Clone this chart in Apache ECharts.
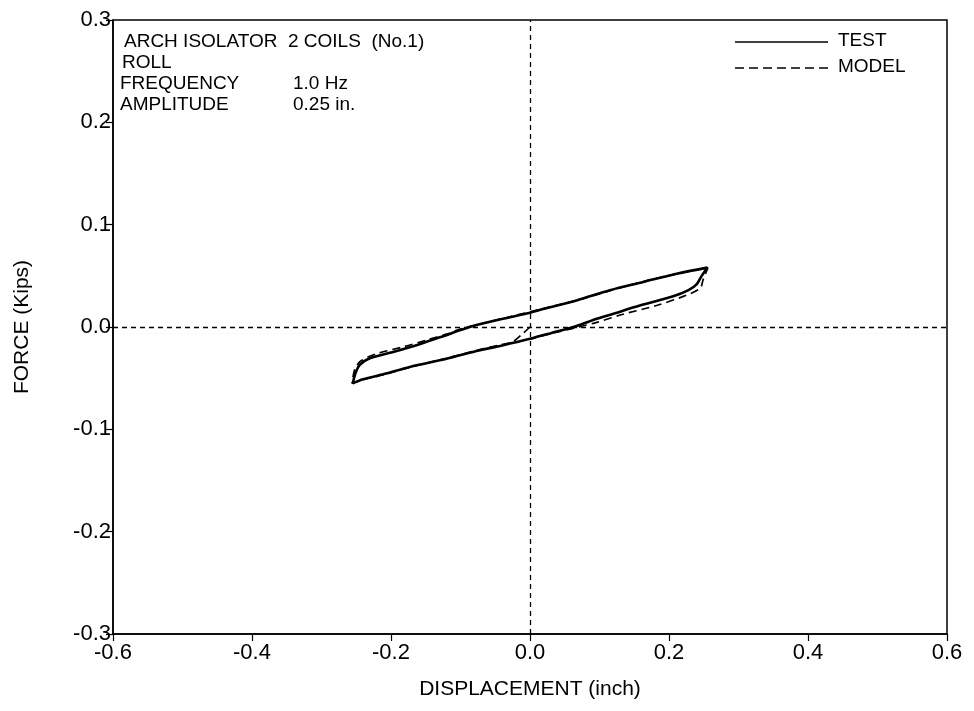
<!DOCTYPE html>
<html>
<head>
<meta charset="utf-8">
<script src="https://cdn.jsdelivr.net/npm/echarts@6/dist/echarts.min.js"></script>
<style>
html,body{margin:0;padding:0;background:#fff;}
#chart{width:974px;height:711px;}
</style>
</head>
<body>
<div id="chart"></div>
<script>
// ---- data ----
var xTicks = [-0.6, -0.4, -0.2, 0.0, 0.2, 0.4, 0.6];
var yTicks = [-0.3, -0.2, -0.1, 0.0, 0.1, 0.2, 0.3];

var testX = [0.255, 0.247, 0.240, 0.228, 0.206, 0.158, 0.120, 0.096, 0.067, 0.030, 0.000, -0.040, -0.077, -0.120, -0.173, -0.210, -0.240, -0.255,
             -0.251, -0.245, -0.232, -0.200, -0.160, -0.125, -0.100, -0.077, -0.029, 0.000, 0.019, 0.067, 0.115, 0.163, 0.211, 0.255];
var testY = [0.058, 0.050, 0.042, 0.036, 0.030, 0.021, 0.013, 0.008, 0.001, -0.006, -0.0115, -0.018, -0.0235, -0.031, -0.039, -0.046, -0.051, -0.055,
             -0.045, -0.037, -0.031, -0.025, -0.017, -0.009, -0.003, 0.002, 0.0095, 0.014, 0.0175, 0.026, 0.036, 0.044, 0.052, 0.058];

var modelX = [0.000, -0.013, -0.025, -0.040, -0.077, -0.120, -0.173, -0.210, -0.240, -0.256,
              -0.252, -0.243, -0.220, -0.180, -0.150, -0.120, -0.100, -0.077, -0.029, 0.019, 0.067, 0.115, 0.163, 0.211, 0.256,
              0.249, 0.245, 0.225, 0.182, 0.134, 0.096, 0.067, 0.030, 0.000];
var modelY = [0.000, -0.008, -0.0145, -0.017, -0.023, -0.0305, -0.0395, -0.0465, -0.0515, -0.055,
              -0.041, -0.033, -0.026, -0.019, -0.013, -0.007, -0.002, 0.002, 0.010, 0.018, 0.026, 0.0355, 0.0445, 0.052, 0.058,
              0.046, 0.038, 0.031, 0.021, 0.0125, 0.0045, -0.0005, -0.0065, -0.012];

var infoLines = [
  ["ARCH ISOLATOR  2 COILS  (No.1)", ""],
  ["ROLL", ""],
  ["FREQUENCY", "1.0 Hz"],
  ["AMPLITUDE", "0.25 in."]
];
var seriesNames = ["TEST", "MODEL"];
var xName = "DISPLACEMENT (inch)";
var yName = "FORCE (Kips)";

// ---- chart ----
var FONT = '"Liberation Sans", Arial, sans-serif';
function zip(a, b) { return a.map(function (v, i) { return [v, b[i]]; }); }

var chart = echarts.init(document.getElementById('chart'), null, {renderer: 'canvas'});

var graphics = [];
var infoY = [42, 63, 84, 105];
var infoX = [[124, 0], [122, 0], [120, 293], [120, 293]];
infoLines.forEach(function (l, i) {
  graphics.push({type: 'text', x: infoX[i][0], y: infoY[i],
    style: {text: l[0], font: '19px ' + FONT, fill: '#000', verticalAlign: 'middle'}});
  if (l[1]) graphics.push({type: 'text', x: infoX[i][1], y: infoY[i],
    style: {text: l[1], font: '19px ' + FONT, fill: '#000', verticalAlign: 'middle'}});
});
// legend drawn as decoration
var legendY = [42, 68];
var legendDash = [null, [9, 5]];
seriesNames.forEach(function (n, i) {
  graphics.push({type: 'line', shape: {x1: 735, y1: legendY[i], x2: 828, y2: legendY[i]},
    style: {stroke: '#000', lineWidth: 1.4, lineDash: legendDash[i]}});
  graphics.push({type: 'text', x: 838, y: legendY[i] - 1,
    style: {text: n, font: '19px ' + FONT, fill: '#000', verticalAlign: 'middle'}});
});

var axisCommon = {
  axisLine: {show: true, onZero: false, lineStyle: {color: '#000', width: 1.5}},
  axisTick: {show: true, inside: false, length: 7, lineStyle: {color: '#000', width: 1.2}},
  splitLine: {show: false},
  nameLocation: 'middle',
  nameTextStyle: {color: '#000', fontSize: 21, fontFamily: FONT}
};

chart.setOption({
  animation: false,
  backgroundColor: '#fff',
  textStyle: {fontFamily: FONT},
  grid: {left: 113, right: 27, top: 20, bottom: 77, show: true, borderColor: '#000', borderWidth: 1.5, containLabel: false},
  graphic: graphics,
  xAxis: Object.assign({}, axisCommon, {
    type: 'value', min: xTicks[0], max: xTicks[xTicks.length - 1], interval: 0.2,
    name: xName, nameGap: 45,
    axisLabel: {color: '#000', fontSize: 22, fontFamily: FONT, margin: 8,
      formatter: function (v) { return v.toFixed(1); }}
  }),
  yAxis: Object.assign({}, axisCommon, {
    type: 'value', min: yTicks[0], max: yTicks[yTicks.length - 1], interval: 0.1,
    name: yName, nameGap: 80,
    axisLabel: {color: '#000', fontSize: 22, fontFamily: FONT, margin: 2,
      formatter: function (v) { return v.toFixed(1); }}
  }),
  series: [
    {
      name: seriesNames[0], type: 'line', symbol: 'none', smooth: 0.3,
      data: zip(testX, testY),
      lineStyle: {color: '#000', width: 2.6, type: 'solid'},
      itemStyle: {color: '#000'},
      markLine: {
        silent: true, symbol: 'none', label: {show: false},
        lineStyle: {color: '#000', width: 1.3, type: [5, 4]},
        data: [{xAxis: 0}, {yAxis: 0}]
      },
      z: 3
    },
    {
      name: seriesNames[1], type: 'line', symbol: 'none', smooth: 0.3,
      data: zip(modelX, modelY),
      lineStyle: {color: '#000', width: 1.7, type: [8, 5]},
      itemStyle: {color: '#000'},
      z: 4
    }
  ]
});
</script>
</body>
</html>
